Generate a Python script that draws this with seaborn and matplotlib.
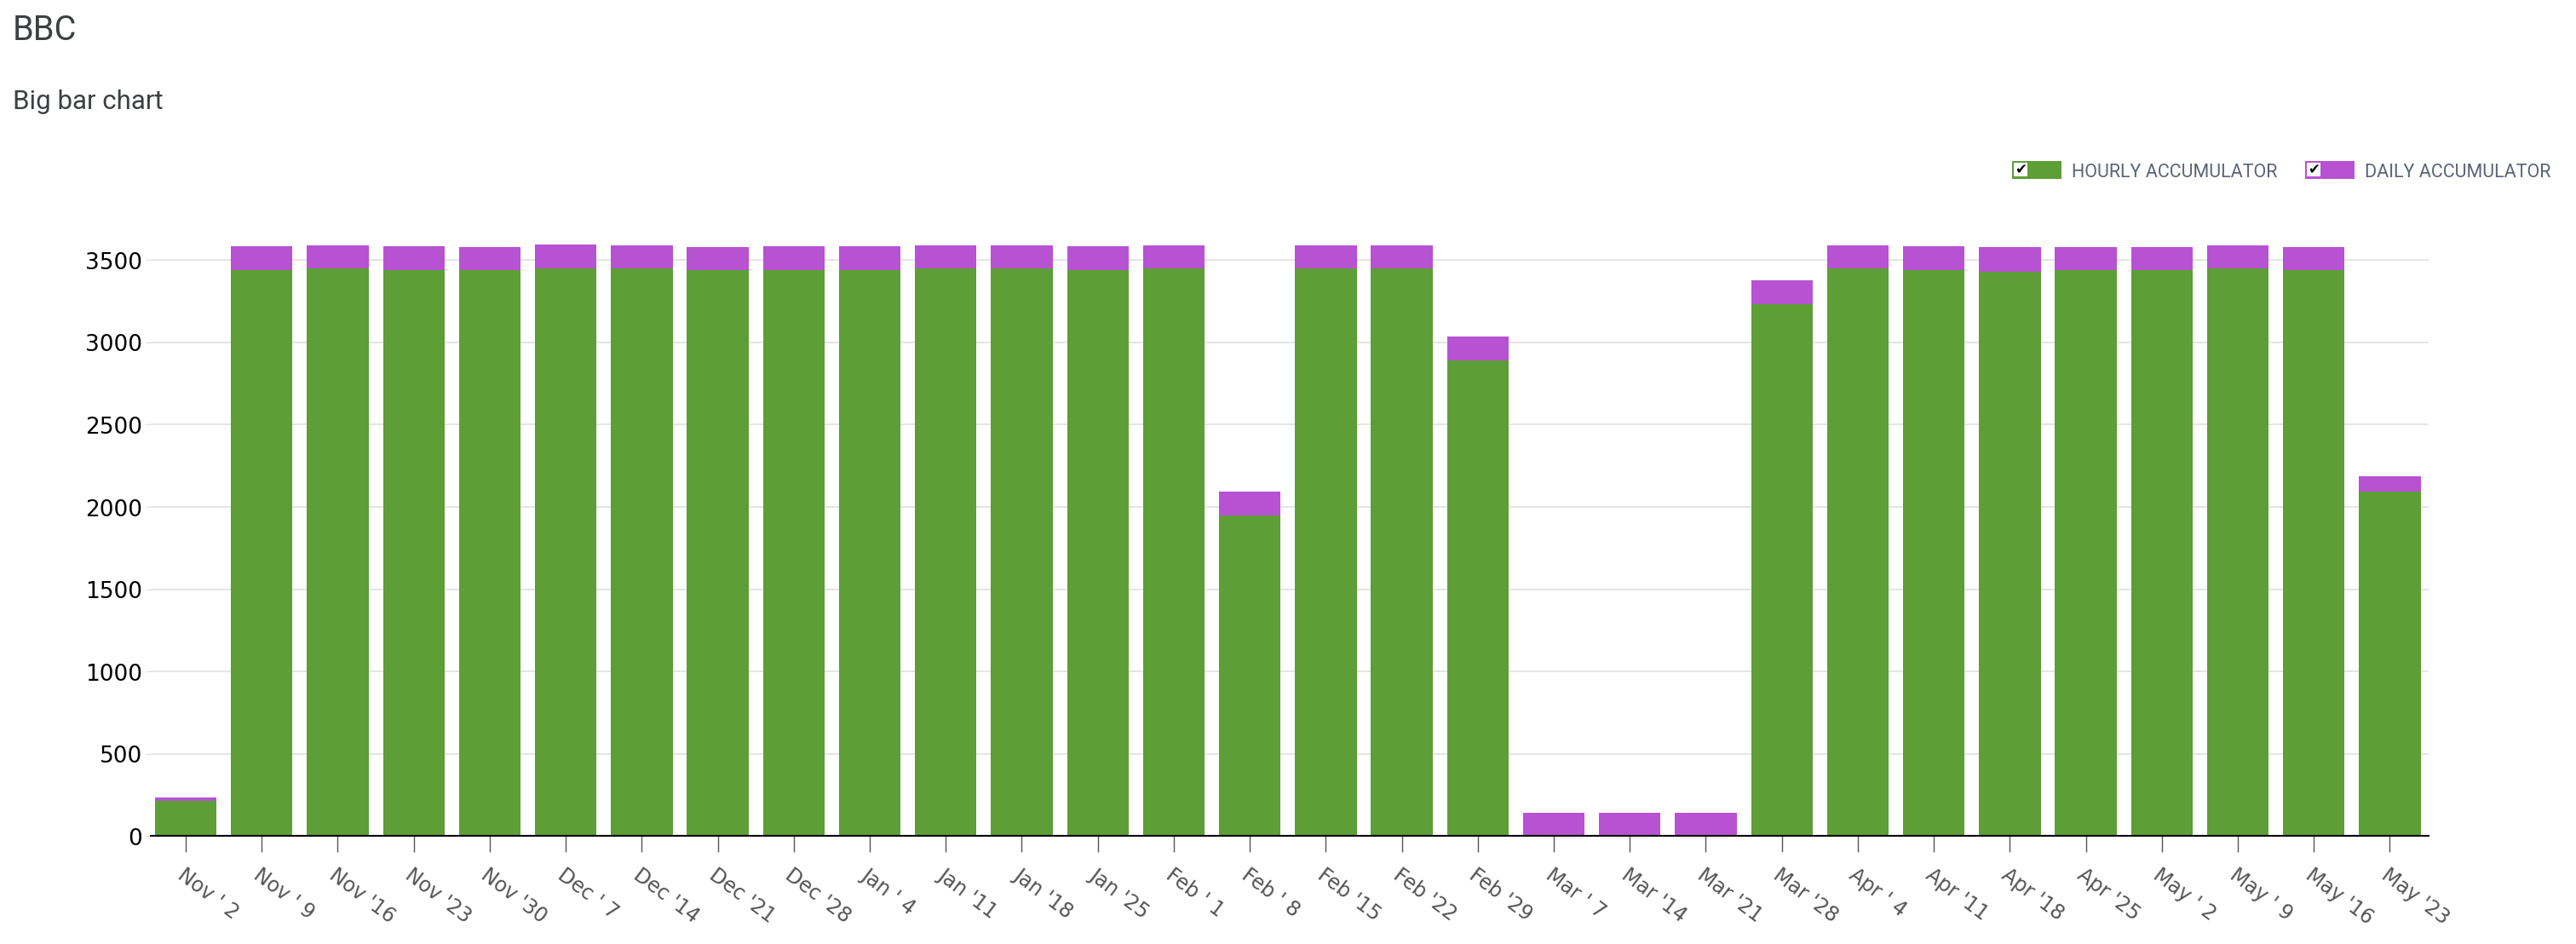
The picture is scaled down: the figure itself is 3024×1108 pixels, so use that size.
import matplotlib
matplotlib.use("Agg")
import matplotlib.pyplot as plt
import seaborn as sns
import pandas as pd
from matplotlib.patches import Rectangle
from matplotlib import font_manager

# ---------------- data ----------------
weeks = ["Nov ' 2", "Nov ' 9", "Nov '16", "Nov '23", "Nov '30",
         "Dec ' 7", "Dec '14", "Dec '21", "Dec '28",
         "Jan ' 4", "Jan '11", "Jan '18", "Jan '25",
         "Feb ' 1", "Feb ' 8", "Feb '15", "Feb '22", "Feb '29",
         "Mar ' 7", "Mar '14", "Mar '21", "Mar '28",
         "Apr ' 4", "Apr '11", "Apr '18", "Apr '25",
         "May ' 2", "May ' 9", "May '16", "May '23"]
hourly = [216, 3440, 3449, 3440, 3440,
          3452, 3449, 3440, 3440,
          3440, 3449, 3449, 3440,
          3449, 1947, 3449, 3449, 2889,
          0, 0, 0, 3230,
          3449, 3440, 3430, 3440,
          3440, 3449, 3440, 2092]
daily = [20, 147, 143, 147, 142,
         145, 143, 142, 147,
         147, 143, 143, 147,
         143, 145, 143, 143, 145,
         143, 143, 143, 145,
         143, 147, 152, 142,
         142, 143, 142, 93]
series_names = ["HOURLY ACCUMULATOR", "DAILY ACCUMULATOR"]
y_ticks = [0, 500, 1000, 1500, 2000, 2500, 3000, 3500]

GREEN = "#5d9e37"
PURPLE = "#b752d3"

df = pd.DataFrame({"week": weeks, "hourly": hourly, "daily": daily})
df["total"] = df["hourly"] + df["daily"]

# ---------------- figure ----------------
sns.set_theme(style="white")
plt.rcParams["font.family"] = ["DejaVu Sans"]

installed = {f.name for f in font_manager.fontManager.ttflist}
if "Liberation Sans Narrow" in installed:
    legend_family, legend_size = "Liberation Sans Narrow", 17
else:
    legend_family, legend_size = "Roboto", 15.5

W, H = 3024, 1108
fig = plt.figure(figsize=(W / 100, 11.085), dpi=100)
fig.patch.set_facecolor("white")

ax_left, ax_right = 177, 2851
ax_bottom, ax_top = 981.4, 267.1
ax = fig.add_axes([ax_left / W, (H - ax_bottom) / H,
                   (ax_right - ax_left) / W, (ax_bottom - ax_top) / H])

sns.barplot(data=df, x="week", y="total", order=weeks, color=PURPLE,
            saturation=1, width=0.81, errorbar=None, linewidth=0, ax=ax)
sns.barplot(data=df, x="week", y="hourly", order=weeks, color=GREEN,
            saturation=1, width=0.81, errorbar=None, linewidth=0, ax=ax)

ax.set_xlim(-0.46, 29.51)
ax.set_ylim(0, 3700)
ax.set_yticks(y_ticks)
ax.set_yticklabels([str(v) for v in y_ticks])
ax.set_xlabel("")
ax.set_ylabel("")
ax.yaxis.grid(True, color="#e3e3e3", linewidth=1.3)
ax.xaxis.grid(False)
ax.set_axisbelow(True)
for s in ["left", "top", "right"]:
    ax.spines[s].set_visible(False)
ax.spines["bottom"].set_color("black")
ax.spines["bottom"].set_linewidth(1.5)

ax.tick_params(axis="x", length=14, width=1, color="#555555", pad=10,
               labelsize=17, labelcolor="#555555", bottom=True)
ax.tick_params(axis="y", length=4, width=1, color="#e3e3e3", pad=3,
               labelsize=19, labelcolor="black", left=True)
for lbl in ax.get_xticklabels():
    lbl.set_rotation(-37)
    lbl.set_ha("left")
    lbl.set_va("top")
    lbl.set_rotation_mode("anchor")

# ---------------- titles & legend (pixel overlay) ----------------
ov = fig.add_axes([0, 0, 1, 1])
ov.set_xlim(0, W)
ov.set_ylim(H, 0)
ov.axis("off")

ov.text(15, 46.7, "BBC", fontsize=28.5, color="#3c4043",
        family="Roboto", va="baseline", ha="left")
ov.text(15, 128.3, "Big bar chart", fontsize=22.5, color="#3c4043",
        family="Roboto", va="baseline", ha="left")

legend_items = [(2362, 2432, GREEN, series_names[0]),
                (2706, 2776, PURPLE, series_names[1])]
for bx, tx, col, name in legend_items:
    ov.add_patch(Rectangle((bx, 189), 58, 21, facecolor=col, edgecolor="none"))
    ov.add_patch(Rectangle((bx + 2, 191.5), 16, 16, facecolor="white", edgecolor="none"))
    ov.text(bx + 10, 199.5, "\u2714", fontsize=12, color="black",
            ha="center", va="center", family="DejaVu Sans")
    ov.text(tx, 208, name, fontsize=legend_size, color="#5b6378",
            family=legend_family, va="baseline", ha="left")

fig.savefig("out.png", dpi=100, facecolor="white")
